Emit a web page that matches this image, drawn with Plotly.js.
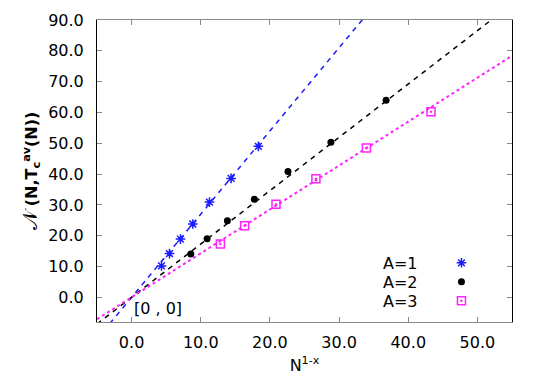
<!DOCTYPE html>
<html>
<head>
<meta charset="utf-8">
<script src="https://cdn.plot.ly/plotly-3.0.1.min.js"></script>
<style>
  body { margin: 0; padding: 0; background: #fff; }
  #chart { width: 545px; height: 379px; }
</style>
</head>
<body>
<div id="chart"></div>
<script>
// points
var a1X = [4.33, 5.48, 7.07, 8.85, 11.26, 14.39, 18.33];
var a1Y = [10.2, 14.2, 18.9, 23.8, 30.9, 38.6, 49.0];

var a2X = [8.56, 10.92, 13.85, 17.75, 22.61, 28.82, 36.8];
var a2Y = [14.06, 19.03, 24.87, 31.8, 40.8, 50.3, 63.96];

var a3X = [12.84, 16.35, 20.88, 26.65, 33.95, 43.29];
var a3Y = [17.3, 23.25, 30.2, 38.5, 48.5, 60.2];

// fit line end points (x = -5 and x = 55)
var fitX = [-5, 55];
var fit1Y = [-13.5, 148.5];
var fit2Y = [-8.65, 95.2];
var fit3Y = [-7.1, 78.4];

var seriesNames = ["A=1", "A=2", "A=3"];
var xTicks = [0, 10, 20, 30, 40, 50];
var yTicks = [0, 10, 20, 30, 40, 50, 60, 70, 80, 90];

var font = "DejaVu Sans, Liberation Sans, Arial, sans-serif";
var blue = "#1a1aff", magenta = "#ff22ff";

var data = [
  {x: fitX, y: fit1Y, mode: "lines", line: {color: blue, dash: "5px,5px", width: 1.5}, showlegend: false, hoverinfo: "skip"},
  {x: fitX, y: fit2Y, mode: "lines", line: {color: "#000", dash: "5px,5px", width: 1.5}, showlegend: false, hoverinfo: "skip"},
  {x: fitX, y: fit3Y, mode: "lines", line: {color: magenta, dash: "dot", width: 2}, showlegend: false, hoverinfo: "skip"},
  {x: a1X, y: a1Y, mode: "markers", name: "",
   marker: {symbol: "asterisk-open", size: 8, color: blue, line: {color: blue, width: 1.5}}},
  {x: a2X, y: a2Y, mode: "markers", name: " ",
   marker: {symbol: "circle", size: 7, color: "#000"}},
  {x: a3X, y: a3Y, mode: "markers", name: "  ",
   marker: {symbol: "square-open-dot", size: 8, color: magenta, line: {color: magenta, width: 1.5}}}
];

var annotations = [
  {x: 0, y: -3.5, xref: "x", yref: "y", text: "[0 , 0]", showarrow: false,
   xanchor: "left", yanchor: "middle", font: {family: font, size: 16, color: "#000"}}
];
var rowY = [0.194, 0.131, 0.0695];
seriesNames.forEach(function (n, i) {
  annotations.push({x: 0.778, y: rowY[i], xref: "paper", yref: "paper", text: n, showarrow: false,
    xanchor: "right", yanchor: "middle", font: {family: font, size: 16, color: "#000"}});
});

var layout = {
  width: 545, height: 379,
  margin: {l: 97, r: 33, t: 20, b: 57},
  paper_bgcolor: "#fff", plot_bgcolor: "#fff",
  font: {family: font, size: 16, color: "#000"},
  showlegend: true,
  legend: {x: 0.83, xanchor: "left", y: 0.244, yanchor: "top", bgcolor: "rgba(0,0,0,0)",
           font: {family: font, size: 12}, tracegroupgap: 0},
  xaxis: {
    range: [-5, 55], tickvals: xTicks, ticktext: xTicks.map(function (v) { return v.toFixed(1); }),
    ticks: "inside", ticklen: 5, tickcolor: "#888", showgrid: false, zeroline: false,
    showline: true, linecolor: "#888", linewidth: 1, mirror: "ticks",
    ticklabelstandoff: 6,
    title: {text: "N<sup>1-x</sup>", standoff: 8, font: {family: font, size: 16}}
  },
  yaxis: {
    range: [-8, 90], tickvals: yTicks, ticktext: yTicks.map(function (v) { return v.toFixed(1); }),
    ticks: "inside", ticklen: 5, tickcolor: "#888", showgrid: false, zeroline: false,
    showline: true, linecolor: "#000", linewidth: 1, mirror: "ticks",
    ticklabelstandoff: 9,
    title: {text: "<span style='font-size:20px'>𝒩</span> <b>(N,T<sub>c</sub><sup>av</sup>(N))</b>", standoff: 6, font: {family: font, size: 16}}
  },
  annotations: annotations
};

Plotly.newPlot("chart", data, layout, {staticPlot: true});
</script>
</body>
</html>
